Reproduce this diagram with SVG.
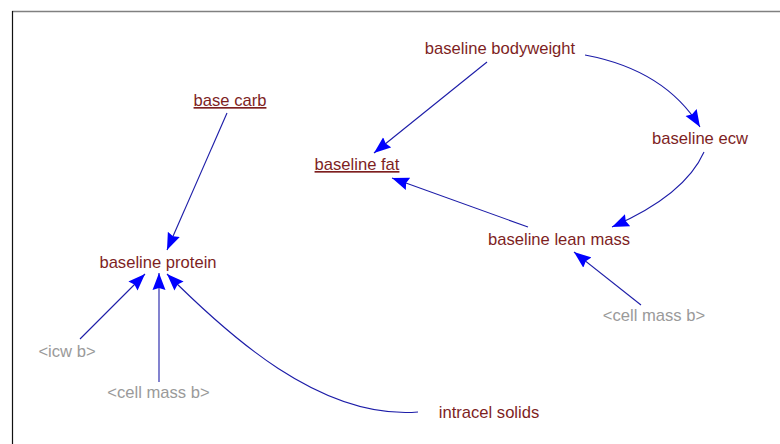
<svg xmlns="http://www.w3.org/2000/svg" width="780" height="444" viewBox="0 0 780 444">
  <style>
    .n { font-family: "Liberation Sans", Arial, sans-serif; font-size: 16.6px; fill: #7e1f1f; text-anchor: middle; }
    .g { font-family: "Liberation Sans", Arial, sans-serif; font-size: 16.6px; fill: #9a9a9a; text-anchor: middle; }
    .u { text-decoration: underline; }
    .c { fill: none; stroke: #1c1ca8; stroke-width: 1.1; marker-end: url(#ah); }
  </style>
  <defs>
    <marker id="ah" markerUnits="userSpaceOnUse" markerWidth="19" markerHeight="14" refX="17" refY="7" orient="auto">
      <path d="M0,0.5 L17,7 L0,13.5 L2,7 Z" fill="#0000ff"/>
    </marker>
  </defs>
  <rect x="0" y="0" width="780" height="444" fill="#ffffff"/>
  <g id="frame">
    <line x1="12" y1="11.5" x2="780" y2="11.5" stroke="#808080" stroke-width="1.4"/>
    <line x1="12.5" y1="11" x2="12.5" y2="444" stroke="#111111" stroke-width="1.2"/>
  </g>
  <g id="connectors">
    <path class="c" d="M227,113 L167,250"/>
    <path class="c" d="M487,62 L374,153"/>
    <path class="c" d="M585,55 Q665,70 700,127"/>
    <path class="c" d="M704,152 Q685,195 612,227"/>
    <path class="c" d="M528,227 L392,178"/>
    <path class="c" d="M641,305 L574,252"/>
    <path class="c" d="M80,339 L145,274"/>
    <path class="c" d="M159,382 L159,273"/>
    <path class="c" d="M418,412 C320,420 227,334 167,274"/>
  </g>
  <g id="baseline_bodyweight"><text class="n" x="500" y="54">baseline bodyweight</text></g>
  <g id="base_carb"><text class="n u" x="230" y="106">base carb</text></g>
  <g id="baseline_fat"><text class="n u" x="357" y="170">baseline fat</text></g>
  <g id="baseline_ecw"><text class="n" x="700" y="144">baseline ecw</text></g>
  <g id="baseline_lean_mass"><text class="n" x="559" y="245">baseline lean mass</text></g>
  <g id="baseline_protein"><text class="n" x="158" y="268">baseline protein</text></g>
  <g id="icw_b"><text class="g" x="67" y="357">&lt;icw b&gt;</text></g>
  <g id="cell_mass_b_left"><text class="g" x="158.5" y="398">&lt;cell mass b&gt;</text></g>
  <g id="intracel_solids"><text class="n" x="489" y="418">intracel solids</text></g>
  <g id="cell_mass_b_right"><text class="g" x="654" y="321">&lt;cell mass b&gt;</text></g>
</svg>
